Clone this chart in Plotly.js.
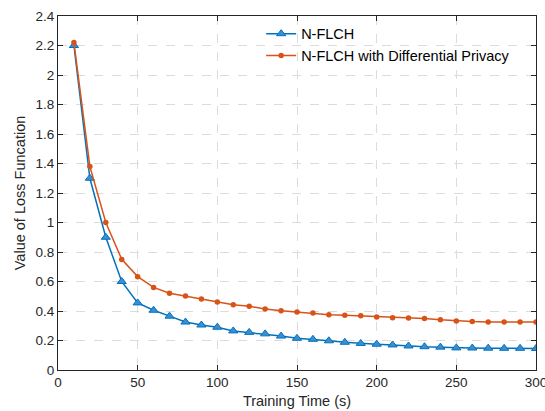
<!DOCTYPE html>
<html>
<head>
<meta charset="utf-8">
<script src="https://cdn.plot.ly/plotly-3.0.1.min.js"></script>
<style>html,body{margin:0;padding:0;background:#fff;overflow:hidden;}#chart{width:545px;height:411px;}</style>
</head>
<body>
<div id="chart"></div>
<script>
var trainingTime = [10,20,30,40,50,60,70,80,90,100,110,120,130,140,150,160,170,180,190,200,210,220,230,240,250,260,270,280,290,300];
var lossNFLCH = [2.2,1.30,0.90,0.60,0.455,0.405,0.365,0.325,0.305,0.29,0.265,0.255,0.245,0.23,0.215,0.208,0.198,0.188,0.18,0.175,0.17,0.163,0.158,0.155,0.15,0.149,0.148,0.147,0.147,0.146];
var lossNFLCHDP = [2.22,1.38,1.0,0.75,0.633,0.56,0.52,0.502,0.481,0.461,0.443,0.432,0.414,0.402,0.393,0.386,0.375,0.372,0.368,0.359,0.355,0.353,0.35,0.341,0.332,0.328,0.326,0.325,0.325,0.325];
var yTickVals = [0,0.2,0.4,0.6,0.8,1,1.2,1.4,1.6,1.8,2,2.2,2.4];
var yTickText = ["0","0.2","0.4","0.6","0.8","1","1.2","1.4","1.6","1.8","2","2.2","2.4"];
var xTickVals = [0,50,100,150,200,250,300];
var xTickText = ["0","50","100","150","200","250","300"];

var blue = '#0072BD', orange = '#D95319';
var traces = [
  {x: trainingTime, y: lossNFLCH, name: 'N-FLCH', type: 'scatter', mode: 'lines+markers',
   line: {color: blue, width: 1.5},
   marker: {symbol: 'triangle-up', size: 8, color: '#3b8fd0', line: {color: blue, width: 1}}},
  {x: trainingTime, y: lossNFLCHDP, name: 'N-FLCH with Differential Privacy', type: 'scatter', mode: 'lines+markers',
   line: {color: orange, width: 1.5},
   marker: {symbol: 'circle', size: 5.5, color: orange}}
];
var fam = 'Liberation Sans, Arial, Helvetica, sans-serif';
var tickFont = {family: fam, size: 13.5, color: '#262626'};
var titleFont = {family: fam, size: 14.5, color: '#262626'};
var layout = {
  width: 545, height: 411,
  margin: {l: 58, r: 9, t: 16, b: 41},
  paper_bgcolor: '#fff', plot_bgcolor: '#fff',
  font: tickFont,
  showlegend: true,
  legend: {x: 0.425, y: 0.995, xanchor: 'left', yanchor: 'top', bgcolor: 'rgba(255,255,255,0)',
           font: {family: fam, size: 14.5, color: '#000'},
           tracegroupgap: 0, itemwidth: 30},
  xaxis: {range: [0, 300], tickvals: xTickVals, ticktext: xTickText, ticklabeloverflow: 'allow',
          showgrid: true, gridcolor: '#dcdcdc', griddash: 'dash', gridwidth: 1,
          zeroline: false, showline: true, linecolor: '#262626', linewidth: 1, mirror: 'ticks',
          ticks: 'inside', ticklen: 5, tickcolor: '#262626',
          tickfont: tickFont,
          title: {text: 'Training Time (s)', font: titleFont, standoff: 6}},
  yaxis: {range: [0, 2.4], tickvals: yTickVals, ticktext: yTickText,
          showgrid: true, gridcolor: '#dcdcdc', griddash: 'dash', gridwidth: 1,
          zeroline: false, showline: true, linecolor: '#262626', linewidth: 1, mirror: 'ticks',
          ticks: 'inside', ticklen: 5, tickcolor: '#262626',
          tickfont: tickFont,
          title: {text: 'Value of Loss Funcation', font: titleFont, standoff: 6}}
};
Plotly.newPlot('chart', traces, layout, {displayModeBar: false, staticPlot: true});
</script>
</body>
</html>
